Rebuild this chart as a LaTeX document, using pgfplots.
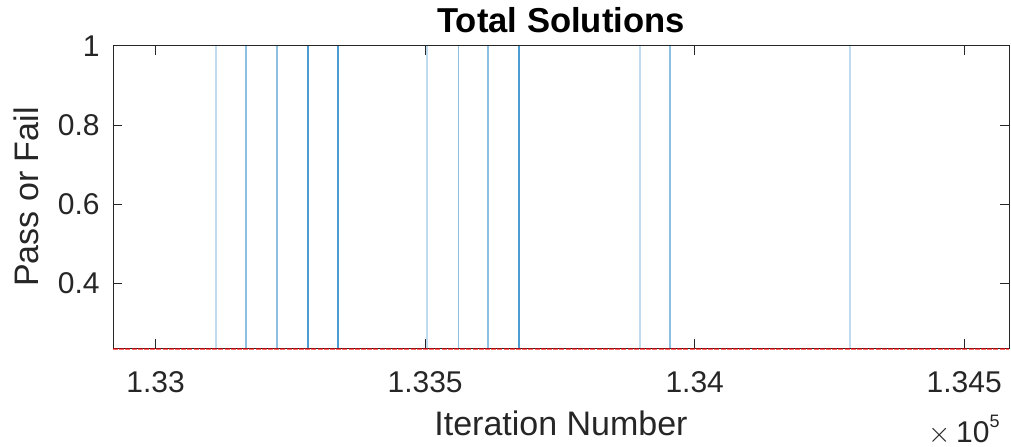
\documentclass[border=0pt]{standalone}
\usepackage{pgfplots}
\pgfplotsset{compat=1.18}
\usepackage{fontspec}
\setmainfont{Liberation Sans}
\usetikzlibrary{calc}
\definecolor{mblue}{rgb}{0,0.447,0.741}
\definecolor{mtext}{rgb}{0.15,0.15,0.15}
\begin{document}
\begin{tikzpicture}
\begin{axis}[
  scale only axis, width=448pt, height=151pt,
  xmin=132921, xmax=134583, ymin=0.236, ymax=1,
  clip=false,
  unbounded coords=jump,
  axis line style={mtext, line width=0.5pt},
  tick style={mtext, line width=0.5pt},
  tick align=inside, major tick length=4.5pt,
  xtick={133000,133500,134000,134500},
  xticklabels={1.33,1.335,1.34,1.345},
  ytick={0.4,0.6,0.8,1},
  yticklabels={0.4,0.6,0.8,1},
  scaled x ticks=false,
  xticklabel style={anchor=base, inner sep=0pt, yshift=-22.3pt, font=\fontsize{15}{18}\selectfont, text=mtext},
  yticklabel style={anchor=east, inner sep=0pt, xshift=-6.5pt, font=\fontsize{15}{18}\selectfont, text=mtext},
]
\coordinate (SW) at (rel axis cs:0,0);
\coordinate (NE) at (rel axis cs:1,1);
% failing baseline
\addplot[red, opacity=0.6, line width=0.6pt, dash pattern=on 2.5pt off 0.6pt, mark=none] coordinates {
(132921,0.2335) (134583,0.2335)};
% light spikes
\addplot[mblue, opacity=0.25, line width=0.9pt, mark=none] coordinates {
(133112,0.236) (133112,1) (nan,nan)
(133503,0.236) (133503,1) (nan,nan)
(133898,0.236) (133898,1) (nan,nan)
(134288,0.236) (134288,1)};
% medium spikes
\addplot[mblue, opacity=0.45, line width=0.9pt, mark=none] coordinates {
(133168,0.236) (133168,1) (nan,nan)
(133225,0.236) (133225,1) (nan,nan)
(133562,0.236) (133562,1) (nan,nan)
(133617,0.236) (133617,1) (nan,nan)
(133954,0.236) (133954,1)};
% dark spikes
\addplot[mblue, opacity=0.7, line width=0.9pt, mark=none] coordinates {
(133282,0.236) (133282,1) (nan,nan)
(133338,0.236) (133338,1) (nan,nan)
(133674,0.236) (133674,1)};
\end{axis}
\coordinate (S) at ($(SW)!0.5!(SW-|NE)$);
\coordinate (N) at ($(NE|-NE)!0.5!(SW|-NE)$);
\node[anchor=base, inner sep=0pt, font=\fontsize{17}{20}\selectfont, text=mtext] at ($(S)+(0,-43.5pt)$) {Iteration Number};
\node[anchor=base east, inner sep=0pt, font=\fontsize{15}{18}\selectfont, text=mtext] at ($(SW-|NE)+(-4.5pt,-47pt)$) {$\times$\,10\raisebox{7.5pt}{\fontsize{9}{10}\selectfont 5}};
\node[anchor=south, rotate=90, inner sep=0pt, font=\fontsize{17}{20}\selectfont, text=mtext] at ($(SW)!0.5!(SW|-NE)+(-37pt,0)$) {Pass or Fail};
\node[anchor=base, inner sep=0pt, font=\bfseries\fontsize{17.3}{20}\selectfont, text=black] at ($(N)+(0,6.5pt)$) {Total Solutions};
\pgfresetboundingbox
\path ($(SW)+(-56.5pt,-49pt)$) rectangle ($(NE)+(1pt,23pt)$);
\end{tikzpicture}
\end{document}
